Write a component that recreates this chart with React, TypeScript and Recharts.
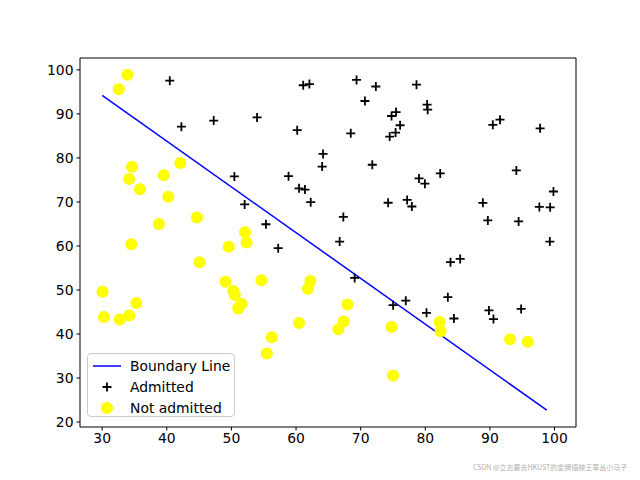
import { ComposedChart, Line, ReferenceArea, Scatter, XAxis, YAxis } from "recharts";

// exam 1 score, exam 2 score
const admitted: [number, number][] = [
  [60.18, 86.31], [79.03, 75.34], [61.11, 96.51], [75.02, 46.55], [76.1, 87.42],
  [84.43, 43.53], [82.31, 76.48], [69.36, 97.72], [53.97, 89.21], [69.07, 52.74],
  [70.66, 92.93], [76.98, 47.58], [89.68, 65.8], [77.92, 68.97], [62.27, 69.95],
  [80.19, 44.82], [61.38, 72.81], [85.4, 57.05], [52.05, 69.43], [64.18, 80.91],
  [83.9, 56.31], [94.44, 65.57], [77.19, 70.46], [97.77, 86.73], [62.07, 96.77],
  [91.56, 88.7], [79.94, 74.16], [99.27, 61.0], [90.55, 43.39], [97.65, 68.86],
  [74.25, 69.82], [71.8, 78.45], [75.4, 85.76], [40.46, 97.54], [80.28, 92.12],
  [66.75, 60.99], [64.04, 78.03], [72.35, 96.23], [60.46, 73.09], [58.84, 75.86],
  [99.83, 72.37], [47.26, 88.48], [50.46, 75.81], [88.91, 69.8], [94.83, 45.69],
  [67.32, 66.59], [57.24, 59.51], [80.37, 90.96], [68.47, 85.59], [75.48, 90.42],
  [78.64, 96.65], [94.09, 77.16], [90.45, 87.51], [74.49, 84.85], [89.85, 45.36],
  [83.49, 48.38], [42.26, 87.1], [99.32, 68.78], [55.34, 64.93], [74.78, 89.53],
];

const notAdmitted: [number, number][] = [
  [34.62, 78.02], [30.29, 43.89], [35.85, 72.9], [45.08, 56.32], [95.86, 38.23],
  [75.01, 30.6], [39.54, 76.04], [67.95, 46.68], [67.37, 42.84], [50.53, 48.86],
  [34.21, 44.21], [93.11, 38.8], [61.83, 50.26], [38.79, 65.0], [52.11, 63.13],
  [40.24, 71.17], [54.64, 52.21], [33.92, 98.87], [74.79, 41.57], [34.18, 75.24],
  [51.55, 46.86], [82.37, 40.62], [51.05, 45.82], [62.22, 52.06], [34.52, 60.4],
  [50.29, 49.8], [49.59, 59.81], [32.58, 95.6], [35.29, 47.02], [56.25, 39.26],
  [30.06, 49.59], [44.67, 66.45], [66.56, 41.09], [49.07, 51.88], [32.72, 43.31],
  [60.46, 42.51], [82.23, 42.72], [42.08, 78.84], [52.35, 60.77], [55.48, 35.57],
];

const boundaryX = [30.0, 98.8];
const boundaryY = [94.2, 22.7];

const xTicks = [30, 40, 50, 60, 70, 80, 90, 100];
const yTicks = [20, 30, 40, 50, 60, 70, 80, 90, 100];
const xDomain = [26.57, 103.32];
const yDomain = [18.88, 102.7];

const toPoints = (arr: [number, number][]) => arr.map(([x, y]) => ({ x, y }));
const boundaryData = boundaryX.map((x, i) => ({ x, y: boundaryY[i] }));

const FONT = "DejaVu Sans";

function Plus(props: any) {
  const { cx, cy } = props;
  return <path d={`M${cx - 4.5},${cy}h9M${cx},${cy - 4.5}v9`} stroke="#000" strokeWidth={1.8} fill="none" />;
}

function Dot(props: any) {
  const { cx, cy } = props;
  return <circle cx={cx} cy={cy} r={6} fill="#ffff00" />;
}

function LegendBox() {
  const row = { display: "flex", alignItems: "center", height: 21 } as const;
  const label = { marginLeft: 10, fontSize: 13.9, color: "#000" };
  return (
    <div
      style={{
        position: "absolute",
        left: 87,
        top: 353,
        width: 148,
        height: 64,
        border: "1px solid #cccccc",
        borderRadius: 4,
        background: "rgba(255,255,255,0.8)",
        fontFamily: FONT,
        boxSizing: "border-box",
        paddingTop: 1,
      }}
    >
      <div style={row}>
        <svg width={42} height={21}>
          <line x1={5} x2={33} y1={11} y2={11} stroke="#0000ff" strokeWidth={1.5} />
        </svg>
        <span style={{ ...label, marginLeft: 0 }}>Boundary Line</span>
      </div>
      <div style={row}>
        <svg width={42} height={21}>
          <path d="M14.5,11h9M19,6.5v9" stroke="#000" strokeWidth={1.8} />
        </svg>
        <span style={{ ...label, marginLeft: 0 }}>Admitted</span>
      </div>
      <div style={row}>
        <svg width={42} height={21}>
          <circle cx={19} cy={11} r={6} fill="#ffff00" />
        </svg>
        <span style={{ ...label, marginLeft: 0 }}>Not admitted</span>
      </div>
    </div>
  );
}

export default function App() {
  return (
    <div style={{ position: "absolute", left: 0, top: 0, width: 640, height: 480, background: "#fff", fontFamily: FONT }}>
      <ComposedChart width={640} height={480} margin={{ top: 58, right: 64, bottom: 23, left: 40 }}>
        <XAxis
          type="number"
          dataKey="x"
          domain={xDomain}
          ticks={xTicks}
          allowDataOverflow
          axisLine={false}
          tickLine={{ stroke: "#000" }}
          tickSize={3.5}
          tickMargin={3}
          height={30}
          tick={{ fill: "#000", fontSize: 13.9, fontFamily: FONT }}
        />
        <YAxis
          type="number"
          dataKey="y"
          domain={yDomain}
          ticks={yTicks}
          allowDataOverflow
          axisLine={false}
          tickLine={{ stroke: "#000" }}
          tickSize={3.5}
          tickMargin={3}
          width={40}
          tick={{ fill: "#000", fontSize: 13.9, fontFamily: FONT }}
        />
        <Scatter name="Admitted" data={toPoints(admitted)} shape={Plus} isAnimationActive={false} />
        <Scatter name="Not admitted" data={toPoints(notAdmitted)} shape={Dot} isAnimationActive={false} />
        <Line
          name="Boundary Line"
          data={boundaryData}
          dataKey="y"
          stroke="#0000ff"
          strokeWidth={1.5}
          dot={false}
          activeDot={false}
          isAnimationActive={false}
        />
        <ReferenceArea
          x1={xDomain[0]}
          x2={xDomain[1]}
          y1={yDomain[0]}
          y2={yDomain[1]}
          fill="none"
          stroke="#000"
          strokeWidth={1}
          fillOpacity={0}
          ifOverflow="visible"
        />
      </ComposedChart>
      <LegendBox />
      <div
        style={{
          position: "absolute",
          left: 473,
          top: 462,
          fontSize: 7,
          color: "#b0b0b0",
          fontFamily: "Noto Sans CJK SC",
          whiteSpace: "nowrap",
        }}
      >
        CSDN @立志要去HKUST的金牌插秧王草丛小马子
      </div>
    </div>
  );
}
